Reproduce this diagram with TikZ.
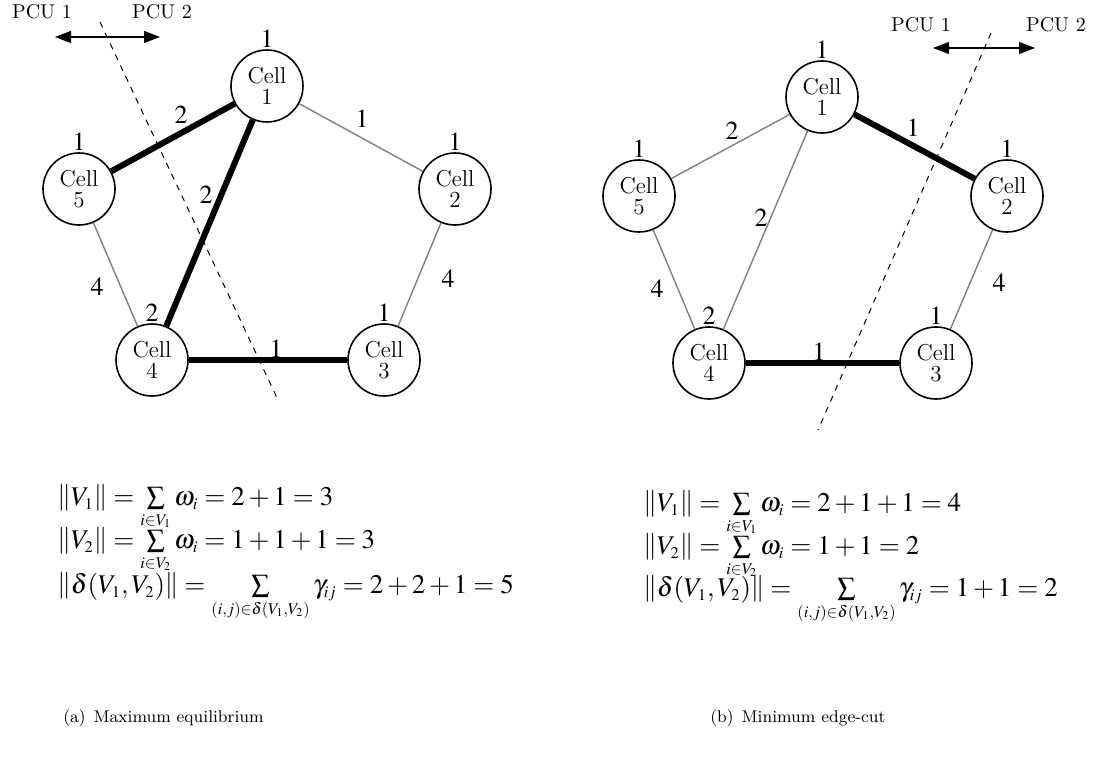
\documentclass[tikz,border=0pt]{standalone}
\usepackage{amsmath}
\usepackage{mathptmx}
\renewcommand{\rmdefault}{lmr}
\DeclareMathSizes{13.5}{13.5}{8.2}{6}
\newcommand{\smsum}{\mathop{\vcenter{\hbox{\scalebox{0.95}{$\sum$}}}}\limits}
\usetikzlibrary{positioning,arrows.meta}

\tikzset{
  cell/.style={circle, draw, line width=0.8pt, minimum size=36pt, inner sep=0pt, align=center, font=\fontsize{11.5}{10.5}\selectfont},
  wgt/.style={inner sep=0pt, text=black, font=\fontsize{13}{15}\selectfont},
  heavy/.style={line width=3pt},
  light/.style={line width=0.7pt, gray},
  cut/.style={dashed, line width=0.5pt},
  pcu/.style={inner sep=0pt, font=\fontsize{10}{12}\selectfont},
  formula/.style={anchor=base west, inner sep=0pt, font=\fontsize{13.5}{15}\selectfont},
  subcap/.style={anchor=base west, inner sep=0pt, font=\fontsize{8.5}{10}\selectfont},
}

\begin{document}
\begin{tikzpicture}[x=0.5pt, y=-0.5pt]
\useasboundingbox (0,0) rectangle (1097,764);

% (a) maximum equilibrium
\node[cell] (a1) at (267,86) {Cell\\1};
\node[cell] (a2) at (455,189) {Cell\\2};
\node[cell] (a3) at (384,360) {Cell\\3};
\node[cell] (a4) at (152,360) {Cell\\4};
\node[cell] (a5) at (79,189) {Cell\\5};
\node[wgt, above=0.5pt of a1] (wa1) {$1$};
\node[wgt, above=0.5pt of a2] (wa2) {$1$};
\node[wgt, above=0.5pt of a3] (wa3) {$1$};
\node[wgt, above=0.5pt of a4] (wa4) {$2$};
\node[wgt, above=0.5pt of a5] (wa5) {$1$};
\draw[heavy] (a1) -- node[wgt, xshift=4pt, yshift=11.25pt] (ea15) {$2$} (a5);
\draw[light] (a1) -- node[wgt, xshift=0.5pt, yshift=9.25pt] (ea12) {$1$} (a2);
\draw[heavy] (a1) -- node[wgt, xshift=-1.75pt, yshift=14pt] (ea14) {$2$} (a4);
\draw[light] (a5) -- node[wgt, xshift=-9.25pt, yshift=-6.25pt] (ea54) {$4$} (a4);
\draw[light] (a2) -- node[wgt, xshift=14.25pt, yshift=-2.25pt] (ea23) {$4$} (a3);
\draw[heavy] (a4) -- node[wgt, xshift=4pt, yshift=5.5pt] (ea43) {$1$} (a3);

\coordinate (cutaT) at (100,22);
\coordinate (cutaB) at (278,400);
\draw[cut] (cutaT) -- (cutaB);
\node[pcu] (pa1) at (42,12) {PCU 1};
\node[pcu] (pa2) at (162,12) {PCU 2};
\coordinate (arraL) at (55,37);
\coordinate (arraR) at (160,37);
\draw[line width=0.6pt, {Triangle[length=8pt,width=6pt]}-{Triangle[length=8pt,width=6pt]}] (arraL) -- (arraR);

\node[formula] (fa1) at (57,505) {$\left\|V_1\right\| = \smsum_{i\in V_1}\omega_i = 2+1=3$};
\node[formula] (fa2) at (57,548) {$\left\|V_2\right\| = \smsum_{i\in V_2}\omega_i = 1+1+1=3$};
\node[formula] (fa3) at (57,593) {$\left\|\delta(V_1,V_2)\right\| = \smsum_{(i,j)\in\delta(V_1,V_2)}\gamma_{ij} = 2+2+1=5$};
\node[subcap] (capa) at (63,722) {(a)\hspace{4pt}Maximum equilibrium};

% (b) minimum edge-cut
\node[cell] (b1) at (822,97) {Cell\\1};
\node[cell] (b2) at (1007,196) {Cell\\2};
\node[cell] (b3) at (936,363) {Cell\\3};
\node[cell] (b4) at (709,363) {Cell\\4};
\node[cell] (b5) at (639,196) {Cell\\5};
\node[wgt, above=0.5pt of b1] (wb1) {$1$};
\node[wgt, above=0.5pt of b2] (wb2) {$1$};
\node[wgt, above=0.5pt of b3] (wb3) {$1$};
\node[wgt, above=0.5pt of b4] (wb4) {$2$};
\node[wgt, above=0.5pt of b5] (wb5) {$1$};
\draw[light] (b1) -- node[wgt, xshift=0.75pt, yshift=7.75pt] (eb15) {$2$} (b5);
\draw[heavy] (b1) -- node[wgt, xshift=-0.75pt, yshift=9.25pt] (eb12) {$1$} (b2);
\draw[light] (b1) -- node[wgt, xshift=-2.25pt, yshift=6pt] (eb14) {$2$} (b4);
\draw[light] (b5) -- node[wgt, xshift=-8.5pt, yshift=-4.75pt] (eb54) {$4$} (b4);
\draw[light] (b2) -- node[wgt, xshift=13.75pt, yshift=-1.75pt] (eb23) {$4$} (b3);
\draw[heavy] (b4) -- node[wgt, xshift=-1.75pt, yshift=5.5pt] (eb43) {$1$} (b3);

\coordinate (cutbT) at (991,33);
\coordinate (cutbB) at (818,430);
\draw[cut] (cutbT) -- (cutbB);
\node[pcu] (pb1) at (921,25) {PCU 1};
\node[pcu] (pb2) at (1056,25) {PCU 2};
\coordinate (arrbL) at (933,48);
\coordinate (arrbR) at (1035,48);
\draw[line width=0.6pt, {Triangle[length=8pt,width=6pt]}-{Triangle[length=8pt,width=6pt]}] (arrbL) -- (arrbR);

\node[formula] (fb1) at (643,511) {$\left\|V_1\right\| = \smsum_{i\in V_1}\omega_i = 2+1+1=4$};
\node[formula] (fb2) at (643,554) {$\left\|V_2\right\| = \smsum_{i\in V_2}\omega_i = 1+1=2$};
\node[formula] (fb3) at (643,596) {$\left\|\delta(V_1,V_2)\right\| = \smsum_{(i,j)\in\delta(V_1,V_2)}\gamma_{ij} = 1+1=2$};
\node[subcap] (capb) at (710,722) {(b)\hspace{4pt}Minimum edge-cut};
\end{tikzpicture}
\end{document}
